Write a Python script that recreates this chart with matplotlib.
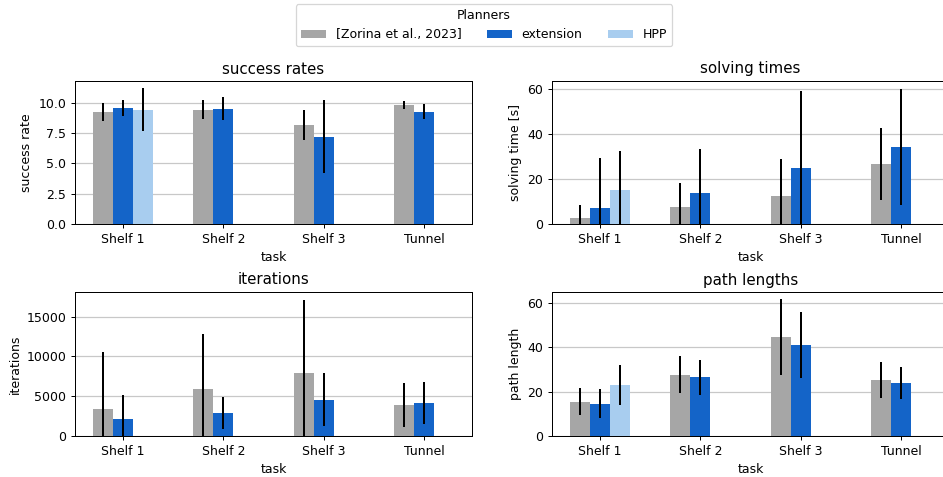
import numpy as np
import matplotlib
matplotlib.use("Agg")
import matplotlib.pyplot as plt

tasks = ["Shelf 1", "Shelf 2", "Shelf 3", "Tunnel"]
planners = ["[Zorina et al., 2023]", "extension", "HPP"]
colors = ["#a6a6a6", "#1464c8", "#a8cdef"]
nan = np.nan

# success rates
succ_zorina = [9.28, 9.45, 8.19, 9.86]
succ_zorina_err = [0.75, 0.8, 1.25, 0.33]
succ_ext = [9.59, 9.53, 7.22, 9.28]
succ_ext_err = [0.65, 0.95, 3.0, 0.62]
succ_hpp = [9.45, nan, nan, nan]
succ_hpp_err = [1.8, nan, nan, nan]

# solving times
time_zorina = [2.8, 7.6, 12.3, 26.6]
time_zorina_err = [5.6, 10.8, 16.4, 16.0]
time_ext = [7.1, 13.9, 24.7, 34.2]
time_ext_err = [22.4, 19.3, 34.3, 25.6]
time_hpp = [15.1, nan, nan, nan]
time_hpp_err = [17.2, nan, nan, nan]

# iterations
iter_zorina = [3435, 5907, 7918, 3896]
iter_zorina_err = [7080, 6870, 9130, 2750]
iter_ext = [2180, 2850, 4566, 4106]
iter_ext_err = [3015, 2000, 3350, 2620]
iter_hpp = [nan, nan, nan, nan]
iter_hpp_err = [nan, nan, nan, nan]

# path lengths
path_zorina = [15.5, 27.7, 44.6, 25.2]
path_zorina_err = [6.0, 8.4, 17.2, 8.3]
path_ext = [14.6, 26.5, 41.0, 23.7]
path_ext_err = [6.6, 7.8, 14.7, 7.2]
path_hpp = [22.8, nan, nan, nan]
path_hpp_err = [9.0, nan, nan, nan]

panels = [
    ("success rates", "success rate",
     [succ_zorina, succ_ext, succ_hpp], [succ_zorina_err, succ_ext_err, succ_hpp_err]),
    ("solving times", "solving time [s]",
     [time_zorina, time_ext, time_hpp], [time_zorina_err, time_ext_err, time_hpp_err]),
    ("iterations", "iterations",
     [iter_zorina, iter_ext, iter_hpp], [iter_zorina_err, iter_ext_err, iter_hpp_err]),
    ("path lengths", "path length",
     [path_zorina, path_ext, path_hpp], [path_zorina_err, path_ext_err, path_hpp_err]),
]

W, H = 943, 477
DPI = 90
fig = plt.figure(figsize=(W / DPI, H / DPI), dpi=DPI)
rects = [
    (75, 81, 397, 143), (552, 81, 397, 143),
    (75, 292, 397, 144), (552, 292, 397, 144),
]
x = np.arange(len(tasks))
width = 0.2
handles = []
for (title, ylabel, vals, errs), (l, t, w, h) in zip(panels, rects):
    ax = fig.add_axes([l / W, 1 - (t + h) / H, w / W, h / H])
    ax.set_axisbelow(True)
    ax.yaxis.grid(True, color="#c8c8c8", linewidth=1.0)
    hs = []
    for i, (v, e) in enumerate(zip(vals, errs)):
        b = ax.bar(x + (i - 1) * width, np.nan_to_num(v, nan=0.0), width,
                   color=colors[i], label=planners[i], edgecolor="none")
        ax.errorbar(x + (i - 1) * width, v, yerr=e, fmt="none",
                    ecolor="black", elinewidth=1.6, capsize=0)
        hs.append(b)
    handles = hs
    ax.set_ylim(bottom=0)
    ax.set_xticks(x)
    ax.set_xticklabels(tasks)
    ax.set_xlabel("task")
    ax.set_ylabel(ylabel)
    ax.set_title(title)

fig.legend(handles, planners, loc="upper center", ncol=3, title="Planners",
           bbox_to_anchor=(484 / W, 1 - 4 / H), borderaxespad=0,
           columnspacing=2.0)
fig.savefig("out.png", dpi=DPI)
